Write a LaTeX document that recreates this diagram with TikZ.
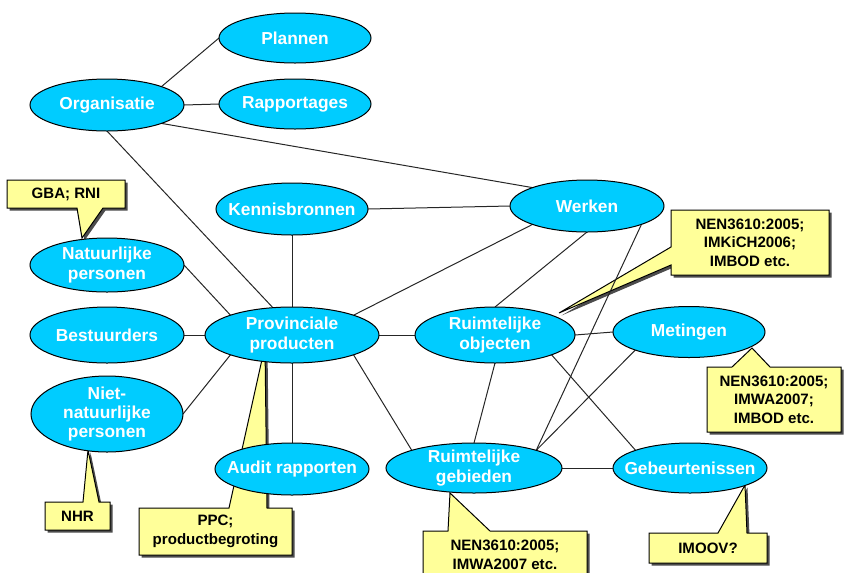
\documentclass[tikz,border=0pt]{standalone}
\usepackage{fontspec}
\setmainfont{Liberation Sans}
\usetikzlibrary{shapes.geometric}
\pgfdeclarelayer{notes}
\pgfdeclarelayer{links}
\pgfsetlayers{notes,links,main}
\definecolor{ovalfill}{HTML}{00CCFF}
\definecolor{notefill}{HTML}{FFFF99}
% a yellow note: its outline (box with pointer) gets a drop shadow first
\newcommand\drawnote[1]{%
  \fill[noteshadow] #1 -- cycle;
  \filldraw[notebody] #1 -- cycle;}
\begin{document}
\begin{tikzpicture}[x=0.75pt,y=-0.75pt,
  oval/.style 2 args={ellipse, draw=black, line width=0.75pt, fill=ovalfill,
    inner sep=0pt, outer sep=0pt,
    minimum width=#1*1.5pt, minimum height=#2*1.5pt},
  ovaltext/.style={text=white, inner sep=0pt, align=center,
    font=\bfseries\fontsize{13}{14.5}\selectfont},
  link/.style={draw=black!85, line width=0.75pt},
  notebody/.style={draw=black, line width=0.75pt, fill=notefill, line join=miter},
  noteshadow/.style={fill=black!70, shift={(2.5,2.5)}},
  notetext/.style={inner sep=0pt, align=center,
    font=\bfseries\fontsize{11.3}{14}\selectfont}]
\useasboundingbox (0,0) rectangle (846,572);

% ---- entities ----
\node[oval={76}{25}, label={[ovaltext]center:Plannen}] (plan) at (295,38) {};
\node[oval={76}{25}, label={[ovaltext]center:Rapportages}] (rapp) at (295,104) {};
\node[oval={77}{26}, label={[ovaltext]center:Organisatie}] (org) at (107,105) {};
\node[oval={76}{26}, label={[ovaltext]center:Kennisbronnen}] (kenn) at (292,209) {};
\node[oval={77}{26}, label={[ovaltext]center:Werken}] (werk) at (587,206) {};
\node[oval={77}{27}, label={[ovaltext]center:Natuurlijke\\personen}] (natp) at (107,265) {};
\node[oval={77}{28}, label={[ovaltext]center:Bestuurders}] (best) at (107,335) {};
\node[oval={76}{38}, label={[ovaltext]center:Niet-\\natuurlijke\\personen}] (nnp) at (107,414) {};
\node[oval={87}{28}, label={[ovaltext]center:Provinciale\\producten}] (prov) at (292,335) {};
\node[oval={80}{28}, label={[ovaltext]center:Ruimtelijke\\objecten}] (robj) at (495,335) {};
\node[oval={76}{25.5}, label={[ovaltext]center:Metingen}] (met) at (689,332) {};
\node[oval={77}{26}, label={[ovaltext]center:Audit rapporten}] (audit) at (292,469) {};
\node[oval={88}{25}, label={[ovaltext]center:Ruimtelijke\\gebieden}] (rgeb) at (474,468) {};
\node[oval={77}{25}, label={[ovaltext]center:Gebeurtenissen}] (gebt) at (690,468) {};

% ---- relations ----
\begin{pgfonlayer}{links}
\draw[link] (org.north east) -- (plan.west);
\draw[link] (org.east) -- (rapp.west);
\draw[link] (org.south east) -- (werk.north west);
\draw[link] (org.south) -- (prov.125);
\draw[link] (kenn.east) -- (werk.west);
\draw[link] (kenn.south) -- (prov.north);
\draw[link] (werk.south west) -- (prov.north east);
\draw[link] (werk.south) -- (robj.north);
\draw[link] (werk.south east) -- (rgeb.north east);
\draw[link] (natp.east) -- (prov.north west);
\draw[link] (best.east) -- (prov.west);
\draw[link] (nnp.east) -- (prov.south west);
\draw[link] (prov.east) -- (robj.west);
\draw[link] (prov.south) -- (audit.north);
\draw[link] (prov.south east) -- (rgeb.north west);
\draw[link] (robj.south) -- (rgeb.north);
\draw[link] (robj.south east) -- (gebt.north west);
\draw[link] (robj.east) -- (met.west);
\draw[link] (met.south west) -- (rgeb.north east);
\draw[link] (rgeb.east) -- (gebt.west);
\end{pgfonlayer}

% ---- notes ----
\begin{pgfonlayer}{notes}
\drawnote{(7,180) -- (125,180) -- (125,208) -- (103,208) -- (82,238) -- (77,208) -- (7,208)}
\node[notetext] (gba) at (66,194) {GBA; RNI};

\drawnote{(671,210) -- (829,210) -- (829,275) -- (671,275) -- (671,265) -- (559,313) -- (671,247)}
\node[notetext] (imkich) at (750,242.5) {NEN3610:2005;\\IMKiCH2006;\\IMBOD etc.};

\drawnote{(707,367) -- (732,367) -- (752,348) -- (770,367) -- (841,367) -- (841,432) -- (707,432)}
\node[notetext] (mnote) at (774,399.5) {NEN3610:2005;\\IMWA2007;\\IMBOD etc.};

\drawnote{(45,502) -- (83,502) -- (88,450) -- (99,502) -- (110,502) -- (110,530) -- (45,530)}
\node[notetext] (nhr) at (77.5,516) {NHR};

\drawnote{(139,508) -- (229,508) -- (265,346) -- (267,508) -- (292,508) -- (292,555) -- (139,555)}
\node[notetext] (ppc) at (215.5,531.5) {PPC;\\productbegroting};

\drawnote{(423,531) -- (448,531) -- (450,493) -- (490,531) -- (587,531) -- (587,595) -- (423,595)}
\node[notetext] (gnote) at (505,554.5) {NEN3610:2005;\\IMWA2007 etc.};

\drawnote{(649,533) -- (718,533) -- (745,485) -- (747,533) -- (767,533) -- (767,563) -- (649,563)}
\node[notetext] (imoov) at (708,548) {IMOOV?};
\end{pgfonlayer}
\end{tikzpicture}
\end{document}
